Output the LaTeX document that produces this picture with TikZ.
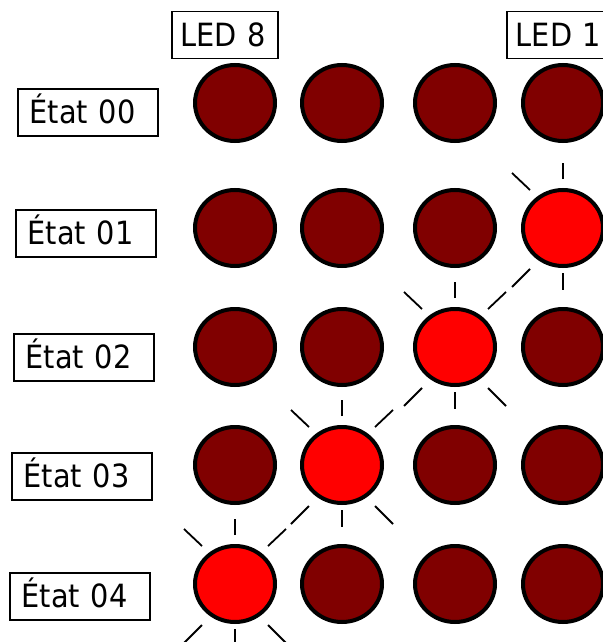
\documentclass[tikz,border=0pt]{standalone}
\usepackage{fontspec}
\setmainfont{DejaVu Sans}[FakeStretch=0.9]
\usetikzlibrary{shapes.geometric}
\definecolor{ledoff}{HTML}{800000}
\definecolor{ledon}{HTML}{FF0000}
\tikzset{
  lamp/.style={ellipse, draw=black, line width=4pt, minimum width=80pt,
    minimum height=76pt, inner sep=0pt},
  lampoff/.style={lamp, fill=ledoff},
  lampon/.style={lamp, fill=ledon},
  ray/.style={draw=black, line width=1.8pt},
  tag/.style={draw=black, line width=1.5pt, minimum height=47pt,
    font=\fontsize{32}{38}\selectfont, text height=23pt, text depth=0pt,
    anchor=north west, align=left},
  statebox/.style={tag, text width=116pt, inner xsep=12pt},
  ledbox/.style={tag, text width=#1, inner xsep=9pt},
  ledbox/.default=88pt
}
\begin{document}
\begin{tikzpicture}[x=1pt,y=-1pt]
\useasboundingbox (0,0) rectangle (602,642);

% column headers
\node[ledbox] (h8) at (171,11) {LED 8};
\node[ledbox=110pt] (h1) at (506,11) {LED 1};

% state labels
\node[statebox] (s0) at (17,88)  {État 00};
\node[statebox] (s1) at (15,209) {État 01};
\node[statebox] (s2) at (13,333) {État 02};
\node[statebox] (s3) at (11,452) {État 03};
\node[statebox] (s4) at (9,572)  {État 04};

% LED grid: row / y / lit column
\foreach \r/\y/\lit in {0/103/0, 1/228/4, 2/347/3, 3/465/2, 4/584/1} {
  \foreach \c/\x in {1/235, 2/342, 3/455, 4/563} {
    \ifnum\c=\lit\def\st{lampon}\else\def\st{lampoff}\fi
    \node[\st] (l\r\c) at (\x,\y) {};
  }
}

% light rays around each lit LED
\foreach \n/\right in {l14/0, l23/1, l32/1, l41/1} {
  \begin{scope}[shift={(\n.center)}]
    \draw[ray] (0,-49) -- (0,-65);
    \draw[ray] (0,45) -- (0,62);
    \draw[ray] (-33,-38) -- (-51,-55);
    \draw[ray] (-33,41) -- (-51,59);
    \ifnum\right=1
      \draw[ray] (33,-38) -- (51,-55);
      \draw[ray] (33,41) -- (51,59);
    \fi
  \end{scope}
}
\end{tikzpicture}
\end{document}
